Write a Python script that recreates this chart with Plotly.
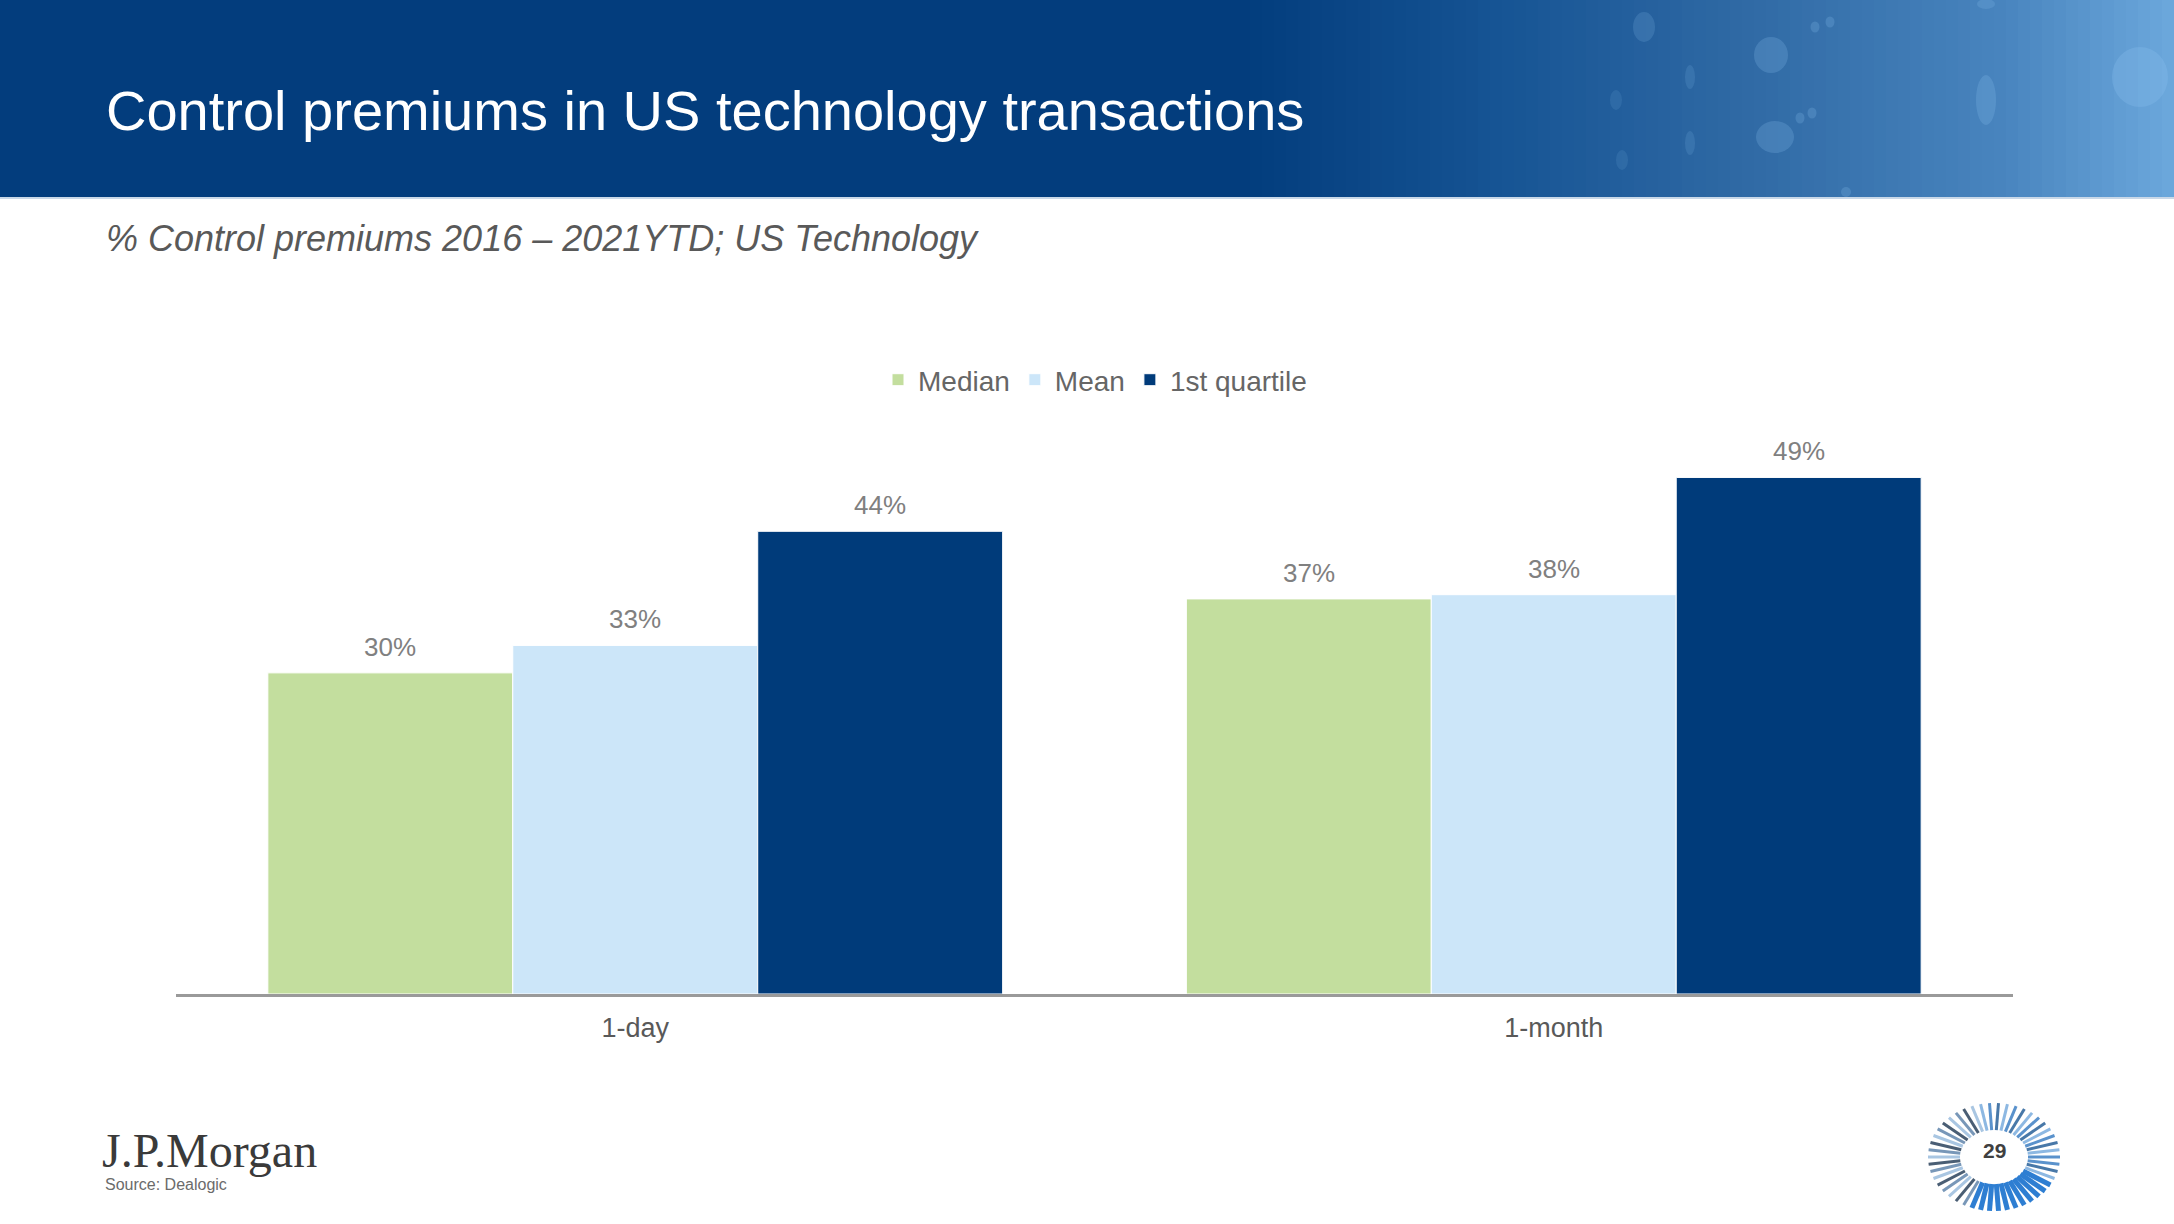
import math
import plotly.graph_objects as go

# ---------------- data ----------------
categories = ["1-day", "1-month"]
series_names = ["Median", "Mean", "1st quartile"]
median_vals = [30.4, 37.4]
mean_vals = [33.0, 37.8]
q1_vals = [43.8, 48.9]
series_values = [median_vals, mean_vals, q1_vals]
series_colors = ["#C3DE9E", "#CCE6F9", "#003B7A"]

title_text = "Control premiums in US technology transactions"
subtitle_text = "% Control premiums 2016 \u2013 2021YTD; US Technology"
source_text = "Source: Dealogic"
page_number = "29"

# ---------------- layout geometry ----------------
W, H = 2174, 1224
L, R, T, B = 176, 161, 413, 230
BARGAP = 0.2
FONT = "Liberation Sans, Arial, sans-serif"


def px(x):
    return (x - L) / (W - L - R)


def py(y):
    return (H - B - y) / (H - T - B)


fig = go.Figure()
for name, vals, col in zip(series_names, series_values, series_colors):
    fig.add_trace(go.Bar(
        name=name, x=categories, y=vals,
        marker=dict(color=col, line=dict(color="white", width=1)),
        hoverinfo="skip",
    ))

# value labels above bars
n = len(series_names)
bw = (1 - BARGAP) / n
annotations = []
for j, vals in enumerate(series_values):
    for i, v in enumerate(vals):
        annotations.append(dict(
            x=i + (j - (n - 1) / 2) * bw, y=v, xref="x", yref="y",
            text=f"{round(v)}%", showarrow=False, yanchor="middle", yshift=26,
            font=dict(family=FONT, size=26, color="#808080"),
        ))

# title / subtitle / footer
annotations += [
    dict(x=px(104), y=py(111), xref="paper", yref="paper", xanchor="left", yanchor="middle",
         text=title_text, showarrow=False, font=dict(family=FONT, size=56, color="white")),
    dict(x=px(104), y=py(239), xref="paper", yref="paper", xanchor="left", yanchor="middle",
         text=f"<i>{subtitle_text}</i>", showarrow=False, font=dict(family=FONT, size=36, color="#595959")),
    dict(x=px(100), y=py(1150), xref="paper", yref="paper", xanchor="left", yanchor="middle",
         text="J.P.Morgan", showarrow=False,
         font=dict(family="Liberation Serif, Times New Roman, serif", size=48, color="#3A3A3A")),
    dict(x=px(103), y=py(1184), xref="paper", yref="paper", xanchor="left", yanchor="middle",
         text=source_text, showarrow=False, font=dict(family=FONT, size=16, color="#6B6B6B")),
    dict(x=px(1994), y=py(1150), xref="paper", yref="paper", xanchor="center", yanchor="middle",
         text=f"<b>{page_number}</b>", showarrow=False, font=dict(family=FONT, size=21, color="#404040")),
]

# ---------------- decorative shapes ----------------
shapes = []
shapes.append(dict(type="rect", xref="paper", yref="paper", x0=px(0), x1=px(W), y0=py(0), y1=py(197),
                   fillcolor="#033D7D", line=dict(width=0), layer="below"))

stops = [(1250, (3, 61, 125)), (1500, (22, 84, 148)), (1750, (48, 106, 165)),
         (2000, (72, 132, 190)), (2174, (108, 168, 220))]


def interp(x):
    for (x0, c0), (x1, c1) in zip(stops[:-1], stops[1:]):
        if x0 <= x <= x1:
            t = (x - x0) / (x1 - x0)
            return tuple(int(round(a + (b - a) * t)) for a, b in zip(c0, c1))
    return stops[-1][1]


step = 12
x = 1250
while x < W:
    c = interp(x + step / 2)
    shapes.append(dict(type="rect", xref="paper", yref="paper", x0=px(x), x1=px(min(x + step + 1, W)),
                       y0=py(0), y1=py(197), fillcolor=f"rgb{c}", line=dict(width=0), layer="below"))
    x += step

spots = [(1644, 27, 22, 30, 0.18), (1771, 55, 34, 36, 0.22), (1815, 27, 9, 11, 0.22), (1830, 22, 9, 11, 0.22),
         (1775, 137, 38, 32, 0.22), (1800, 118, 9, 11, 0.22), (1812, 113, 9, 11, 0.22),
         (1690, 77, 10, 24, 0.15), (1690, 143, 10, 24, 0.15), (1986, 100, 20, 50, 0.22),
         (2140, 77, 56, 60, 0.28), (1616, 100, 12, 20, 0.12), (1622, 160, 12, 20, 0.12),
         (1986, 4, 18, 10, 0.2), (1846, 192, 10, 10, 0.22)]
for cx, cy, w, h, op in spots:
    shapes.append(dict(type="circle", xref="paper", yref="paper", x0=px(cx - w / 2), x1=px(cx + w / 2),
                       y0=py(cy - h / 2), y1=py(cy + h / 2), fillcolor=f"rgba(140,195,240,{op})",
                       line=dict(width=0), layer="below"))
shapes.append(dict(type="line", xref="paper", yref="paper", x0=px(0), x1=px(W), y0=py(198), y1=py(198),
                   line=dict(color="#C9D8E8", width=2), layer="below"))

# page-number badge ring
cx, cy = 1994, 1157
nd = 46
for k in range(nd):
    th = 2 * math.pi * k / nd
    ci, si = math.cos(th), math.sin(th)
    xa, ya = cx + 34 * ci, cy - 27 * si
    xb, yb = cx + 66 * ci, cy - 54 * si
    if si < -0.5 and ci > -0.4:
        col, wd = "#2E7ED2", 5
    elif ci < -0.3:
        col, wd = ["#4A5E74", "#7897B8", "#A9C6E2"][k % 3], 3
    else:
        col, wd = ["#5A92CC", "#8DB8E2", "#4878A8"][k % 3], 3
    shapes.append(dict(type="line", xref="paper", yref="paper", x0=px(xa), y0=py(ya), x1=px(xb), y1=py(yb),
                       line=dict(color=col, width=wd)))

fig.update_layout(
    width=W, height=H,
    margin=dict(l=L, r=R, t=T, b=B, autoexpand=False),
    paper_bgcolor="white", plot_bgcolor="white",
    barmode="group", bargap=BARGAP, bargroupgap=0,
    font=dict(family=FONT, color="#595959"),
    showlegend=True,
    legend=dict(orientation="h", x=px(1095), xanchor="center", y=py(380), yanchor="middle",
                font=dict(family=FONT, size=28, color="#666666"), bgcolor="rgba(0,0,0,0)",
                itemclick=False, itemdoubleclick=False),
    xaxis=dict(showline=True, linecolor="#9A9A9A", linewidth=2.5, showgrid=False, zeroline=False,
               ticks="outside", ticklen=8, tickcolor="rgba(0,0,0,0)",
               tickfont=dict(family=FONT, size=27, color="#595959"), fixedrange=True),
    yaxis=dict(range=[0, 55], visible=False, showgrid=False, fixedrange=True),
    annotations=annotations,
    shapes=shapes,
)

fig.write_html("out.html", config={"displayModeBar": False},
               post_script="document.body.style.margin='0px';")
